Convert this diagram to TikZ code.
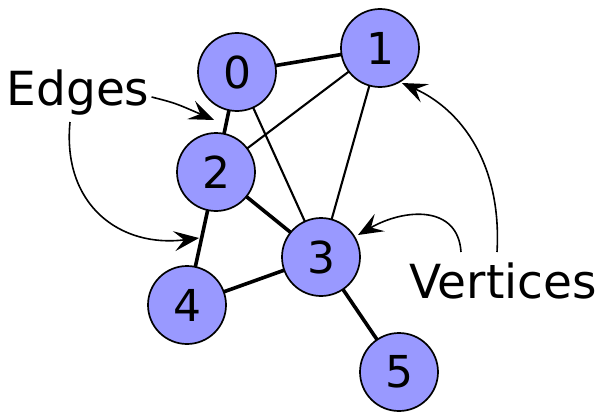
\documentclass[tikz,border=0pt]{standalone}
\usepackage{fontspec}
\setmainfont{DejaVu Sans}
\usetikzlibrary{arrows.meta}
\definecolor{vfill}{HTML}{9999FF}
\begin{document}
\begin{tikzpicture}[x=1pt,y=-1pt,
  vert/.style={circle,draw=black,line width=1.7pt,fill=vfill,minimum size=78pt,inner sep=0pt,font=\fontsize{44}{44}\selectfont},
  thick edge/.style={line width=3.6pt},
  thin edge/.style={line width=2.1pt},
  lbl/.style={inner sep=0pt,font=\fontsize{47}{47}\selectfont},
  pointer/.style={line width=1.6pt,-{Stealth[length=25pt,width=20pt,inset=10pt]}}]
\useasboundingbox (0,0) rectangle (599,412);
\node[lbl] (edges) at (78,93) {Edges};
\node[lbl] (vertices) at (503,281) {Vertices};
% edges
\coordinate (p0) at (237,72);
\coordinate (p1) at (380,48);
\coordinate (p2) at (216,172);
\coordinate (p3) at (321,257);
\coordinate (p4) at (187,305);
\coordinate (p5) at (399,372);
\draw[thick edge] (p0) -- (p1);
\draw[thick edge] (p0) -- (p2);
\draw[thin edge] (p0) -- (p3);
\draw[thin edge] (p1) -- (p2);
\draw[thin edge] (p1) -- (p3);
\draw[thick edge] (p2) -- (p3);
\draw[thick edge] (p2) -- (p4);
\draw[thick edge] (p3) -- (p4);
\draw[thick edge] (p3) -- (p5);
\node[vert] (n0) at (p0) {0};
\node[vert] (n1) at (p1) {1};
\node[vert] (n2) at (p2) {2};
\node[vert] (n3) at (p3) {3};
\node[vert] (n4) at (p4) {4};
\node[vert] (n5) at (p5) {5};
% pointers
\coordinate (e02) at (214,120);
\coordinate (e24) at (199,238);
\coordinate (t3) at (358,235);
\coordinate (t1) at (402,83);
\draw[pointer] (edges.east) ++(2,4) .. controls (175,103) .. (e02);
\draw[pointer] (70,122) .. controls (62,205) and (120,248) .. (e24);
\draw[pointer] (461,252) .. controls (458,205) and (405,208) .. (t3);
\draw[pointer] (497,252) .. controls (502,165) and (462,110) .. (t1);
\end{tikzpicture}
\end{document}
